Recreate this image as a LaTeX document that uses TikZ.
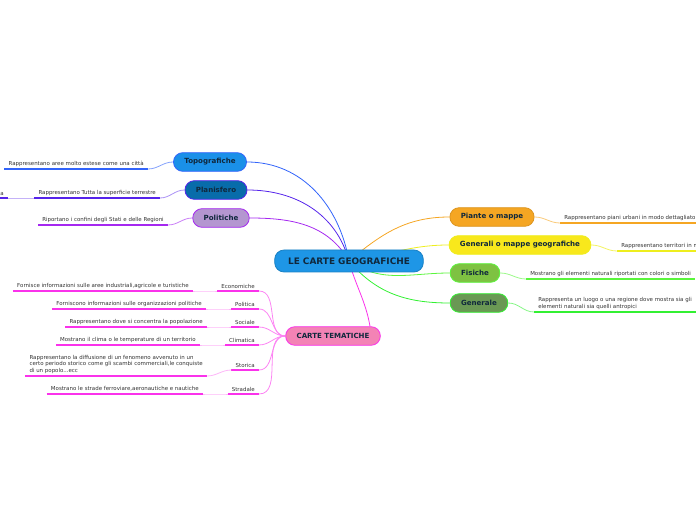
\documentclass[tikz,border=0pt]{standalone}
\usepackage{fontspec}
\setmainfont{DejaVu Sans}
\usetikzlibrary{positioning,backgrounds,calc}
\definecolor{croot}{RGB}{30,150,230}
\definecolor{ctopo}{RGB}{26,144,232}
\definecolor{ltopo}{RGB}{50,100,250}
\definecolor{cplan}{RGB}{8,108,170}
\definecolor{lplan}{RGB}{85,35,235}
\definecolor{cpoli}{RGB}{180,150,208}
\definecolor{lpoli}{RGB}{165,40,240}
\definecolor{cpian}{RGB}{245,166,35}
\definecolor{cgenr}{RGB}{248,232,28}
\definecolor{lgenr}{RGB}{238,238,30}
\definecolor{cfis}{RGB}{126,194,66}
\definecolor{lfis}{RGB}{90,245,60}
\definecolor{cgen}{RGB}{106,152,84}
\definecolor{lgen}{RGB}{50,240,50}
\definecolor{ctem}{RGB}{243,131,181}
\definecolor{ltem}{RGB}{250,50,235}
\definecolor{cdark}{RGB}{16,40,60}
\definecolor{cgray}{RGB}{50,50,50}
\newcommand{\leaffont}{\fontsize{4.1}{5}\selectfont}

\begin{document}
\begin{tikzpicture}[x=0.75pt,y=-0.75pt]
    \tikzstyle{topic}=[rectangle,rounded corners=7pt,minimum height=14pt,inner xsep=8.2pt,inner ysep=0pt,line width=0.6pt,text=cdark,font=\fontsize{5.3}{6}\selectfont\bfseries]
    \tikzstyle{leaf}=[inner xsep=3pt,inner ysep=1.6pt,text=cgray,font=\leaffont,align=left]
    \tikzstyle{uline}=[line width=1.4pt]
    \tikzstyle{lnk}=[line width=0.6pt]
    \useasboundingbox (0,0) rectangle (696,520);

    % main topics
    \node[topic,fill=croot,draw=croot!85!black,minimum height=16.5pt,inner xsep=10pt,font=\fontsize{6.7}{7}\selectfont\bfseries] (root) at (349,261) {LE CARTE GEOGRAFICHE};
    \node[topic,fill=ctopo,draw=ltopo] (topo) at (210,162) {Topografiche};
    \node[topic,fill=cplan,draw=lplan] (plan) at (216,190) {Planisfero};
    \node[topic,fill=cpoli,draw=lpoli] (poli) at (221,218) {Politiche};
    \node[topic,fill=cpian,draw=cpian!90!black] (pian) at (492,217) {Piante o mappe};
    \node[topic,fill=cgenr,draw=lgenr] (genr) at (520,245) {Generali o mappe geografiche};
    \node[topic,fill=cfis,draw=lfis] (fis) at (475,273) {Fisiche};
    \node[topic,fill=cgen,draw=lgen] (gen) at (479,303) {Generale};
    \node[topic,fill=ctem,draw=ltem] (tem) at (333,336) {CARTE TEMATICHE};

    % leaves
    \node[leaf,anchor=south east] (topoL) at (148,169) {Rappresentano aree molto estese come una città};
    \node[leaf,anchor=south east] (planL) at (160,198) {Rappresentano Tutta la superficie terrestre};
    \node[leaf,anchor=south east] (planLL) at (8,198) {a};
    \node[leaf,anchor=south east] (poliL) at (168,225) {Riportano i confini degli Stati e delle Regioni};
    \node[leaf,anchor=south west] (pianL) at (560,223) {Rappresentano piani urbani in modo dettagliato};
    \node[leaf,anchor=south west] (genrL) at (617,251) {Rappresentano territori in modo generale};
    \node[leaf,anchor=south west] (fisL) at (526,279) {Mostrano gli elementi naturali riportati con colori o simboli};
    \node[leaf,anchor=south west] (genL) at (534,312) {Rappresenta un luogo o una regione dove mostra sia gli\\elementi naturali sia quelli antropici};

    \node[leaf,anchor=south east] (eco) at (259,291) {Economiche};
    \node[leaf,anchor=south east] (pol) at (259,309) {Politica};
    \node[leaf,anchor=south east] (soc) at (259,327) {Sociale};
    \node[leaf,anchor=south east] (cli) at (259,345) {Climatica};
    \node[leaf,anchor=south east] (sto) at (259,370) {Storica};
    \node[leaf,anchor=south east] (str) at (259,394) {Stradale};
    \node[leaf,anchor=south east] (ecoL) at (193,291) {Fornisce informazioni sulle aree industriali,agricole e turistiche};
    \node[leaf,anchor=south east] (polL) at (206,309) {Forniscono informazioni sulle organizzazioni politiche};
    \node[leaf,anchor=south east] (socL) at (207,327) {Rappresentano dove si concentra la popolazione};
    \node[leaf,anchor=south east] (cliL) at (200,345) {Mostrano il clima o le temperature di un territorio};
    \node[leaf,anchor=south east] (stoL) at (207,376) {Rappresentano la diffusione di un fenomeno avvenuto in un\\certo periodo storico come gli scambi commerciali,le conquiste\\di un popolo...ecc};
    \node[leaf,anchor=south east] (strL) at (203,394) {Mostrano le strade ferroviare,aeronautiche e nautiche};

    % underlines
    \foreach \n/\c in {topoL/ltopo,planL/lplan,planLL/lplan,poliL/lpoli,pianL/cpian,genrL/lgenr,fisL/lfis,genL/lgen,
        eco/ltem,pol/ltem,soc/ltem,cli/ltem,sto/ltem,str/ltem,ecoL/ltem,polL/ltem,socL/ltem,cliL/ltem,stoL/ltem,strL/ltem}
        \draw[uline,\c] (\n.south west) -- (\n.south east);

    \begin{scope}[on background layer]
    \path
    (root.center) edge [lnk,ltopo,out=100,in=0] (topo.east)
    (root.center) edge [lnk,lplan,out=105,in=0] (plan.east)
    (root.center) edge [lnk,lpoli,out=120,in=0] (poli.east)
    (root.center) edge [lnk,cpian,out=40,in=180] (pian.west)
    (root.center) edge [lnk,lgenr,out=8,in=180] (genr.west)
    (root.center) edge [lnk,lfis,out=-35,in=180] (fis.west)
    (root.center) edge [lnk,lgen,out=-50,in=180] (gen.west)
    (root.center) edge [lnk,ltem,out=-75,in=100] ($(tem.north)+(37,0)$);
    \end{scope}

    \path
    (topo.west) edge [lnk,ltopo!60,out=180,in=0] (topoL.south east)
    (plan.west) edge [lnk,lplan!50,out=180,in=0] (planL.south east)
    (planL.south west) edge [lnk,lplan!35] (planLL.south east)
    (poli.west) edge [lnk,lpoli!60,out=180,in=0] (poliL.south east)
    (pian.east) edge [lnk,cpian!60,out=0,in=180] (pianL.south west)
    (genr.east) edge [lnk,lgenr!70,out=0,in=180] (genrL.south west)
    (fis.east) edge [lnk,lfis!60,out=0,in=180] (fisL.south west)
    (gen.east) edge [lnk,lgen!60,out=0,in=180] (genL.south west);

    \foreach \n in {eco,pol,soc,cli,sto,str}
        \draw[lnk,ltem!60] (tem.west) to[out=180,in=0] (\n.south east);
    \foreach \n in {eco,pol,soc,cli,sto,str}
        \draw[lnk,ltem!35] (\n.south west) to[out=180,in=0] (\n L.south east);
  \end{tikzpicture}
\end{document}
